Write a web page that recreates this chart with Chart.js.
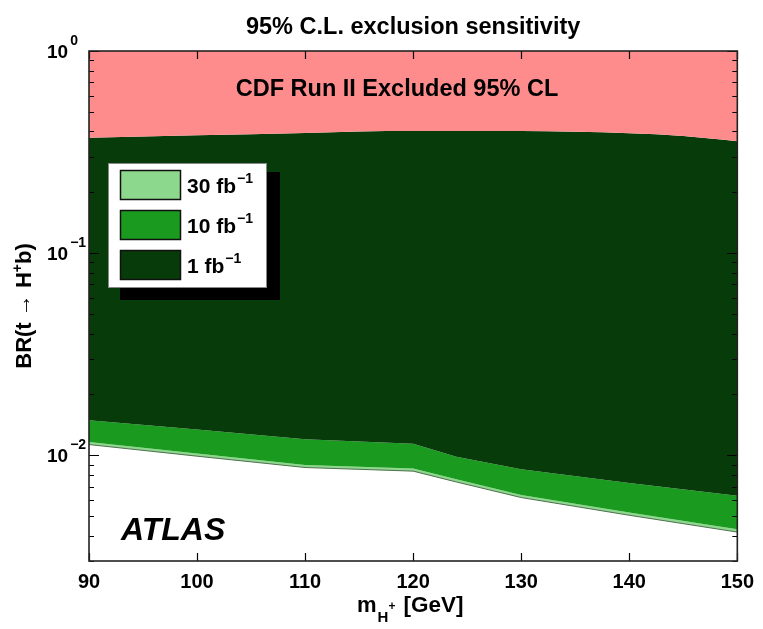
<!DOCTYPE html>
<html>
<head>
<meta charset="utf-8">
<script src="https://cdn.jsdelivr.net/npm/chart.js@4.4.1/dist/chart.umd.min.js"></script>
<style>
html,body{margin:0;padding:0;background:#fff;}
#wrap{position:relative;width:763px;height:629px;}
</style>
</head>
<body>
<div id="wrap"><canvas id="c" width="763" height="629"></canvas></div>
<script>
// ---- data ----
const masses = [90, 100, 110, 120, 124, 130, 140, 150];
const cdfMasses = [90, 100, 110, 115, 120, 130, 140, 145, 150];
const cdfLimit = [0.372, 0.383, 0.393, 0.400, 0.402, 0.402, 0.392, 0.380, 0.358];
const sens1fb  = [0.0149, 0.0134, 0.0120, 0.0114, 0.00985, 0.00853, 0.00730, 0.00630];
const sens10fb = [0.01164, 0.0102, 0.00896, 0.0086, 0.00761, 0.00637, 0.00521, 0.00431];
const sens30fb = [0.0113, 0.0099, 0.0087, 0.00835, 0.00738, 0.00618, 0.00505, 0.00417];
const xTicks = [90, 100, 110, 120, 130, 140, 150];
const yDecades = [1, 0.1, 0.01];
const yDecadeExp = ['0', '\u22121', '\u22122'];
const legendLabels = ['30 fb', '10 fb', '1 fb'];

const COL_PINK = '#ff8c8c';
const COL_DARK = '#073b09';
const COL_MID = '#1a9a1e';
const COL_LIGHT = '#8cd88c';
const FONT = '"Liberation Sans", Arial, sans-serif';
const NARROW = '"Liberation Sans Narrow", "Liberation Sans", Arial, sans-serif';

const pts = (xs, ys) => xs.map((x, i) => ({x: x, y: ys[i]}));

const decor = {
  id: 'decor',
  afterDatasetsDraw(chart) {
    const ctx = chart.ctx;
    ctx.save();
    // CDF label
    ctx.fillStyle = '#000';
    ctx.font = 'bold 23.5px ' + FONT;
    ctx.textAlign = 'center';
    ctx.textBaseline = 'middle';
    ctx.fillText('CDF Run II Excluded 95% CL', 397, 90);
    // ATLAS
    ctx.font = 'italic bold 32px ' + FONT;
    ctx.textAlign = 'left';
    ctx.textBaseline = 'alphabetic';
    ctx.fillText('ATLAS', 121, 540);
    // legend
    ctx.fillStyle = '#000';
    ctx.fillRect(120, 172, 160, 128);
    ctx.fillStyle = '#fff';
    ctx.fillRect(108, 163, 159, 125);
    ctx.strokeStyle = '#888';
    ctx.lineWidth = 1;
    ctx.strokeRect(108.5, 163.5, 158, 124);
    const cols = [COL_LIGHT, COL_MID, COL_DARK];
    const tops = [170, 210, 250];
    for (let i = 0; i < 3; i++) {
      ctx.fillStyle = cols[i];
      ctx.fillRect(120, tops[i], 61, 30);
      ctx.strokeStyle = '#111';
      ctx.lineWidth = 1.5;
      ctx.strokeRect(120.5, tops[i] + 0.5, 60, 29);
      ctx.fillStyle = '#000';
      ctx.font = 'bold 21px ' + FONT;
      ctx.textAlign = 'left';
      ctx.textBaseline = 'alphabetic';
      const base = tops[i] + 23;
      ctx.fillText(legendLabels[i], 187, base);
      const w = ctx.measureText(legendLabels[i]).width;
      ctx.font = 'bold 14px ' + FONT;
      ctx.fillText('\u22121', 187 + w + 1, base - 10);
    }
    ctx.restore();
  },
  afterDraw(chart) {
    const ctx = chart.ctx, a = chart.chartArea;
    const xs = chart.scales.x, ys = chart.scales.y;
    ctx.save();
    ctx.strokeStyle = '#000';
    ctx.lineWidth = 1.2;
    ctx.beginPath();
    // x ticks top & bottom
    xTicks.forEach(v => {
      const px = Math.round(xs.getPixelForValue(v)) + 0.5;
      ctx.moveTo(px, a.bottom); ctx.lineTo(px, a.bottom - 8);
      ctx.moveTo(px, a.top); ctx.lineTo(px, a.top + 8);
    });
    // y ticks left & right
    for (let e = -3; e <= 0; e++) {
      for (let m = 1; m <= 9; m++) {
        const v = m * Math.pow(10, e);
        if (v < ys.min - 1e-12 || v > ys.max + 1e-12) continue;
        const py = Math.round(ys.getPixelForValue(v)) + 0.5;
        const len = m === 1 ? 10 : 5;
        ctx.moveTo(a.left, py); ctx.lineTo(a.left + len, py);
        ctx.moveTo(a.right, py); ctx.lineTo(a.right - len, py);
        if (e === 0) break;
      }
    }
    ctx.stroke();
    // frame
    ctx.lineWidth = 1.6;
    ctx.strokeStyle = '#222';
    ctx.strokeRect(a.left, a.top, a.right - a.left, a.bottom - a.top);
    // y tick labels (10 with superscript exponent)
    ctx.fillStyle = '#000';
    ctx.textAlign = 'left';
    ctx.textBaseline = 'alphabetic';
    yDecades.forEach((v, i) => {
      const py = ys.getPixelForValue(v);
      ctx.font = 'bold 19px ' + NARROW;
      const bw = ctx.measureText('10').width;
      const x0 = 47;
      ctx.fillText('10', x0, py + 7);
      ctx.font = 'bold 14px ' + NARROW;
      ctx.fillText(yDecadeExp[i], x0 + bw + 2, py - 6);
    });
    // x axis title: m_{H+} [GeV]
    ctx.font = 'bold 22px ' + FONT;
    let x = 357, base = 612;
    ctx.fillText('m', x, base);
    x += ctx.measureText('m').width + 1;
    ctx.font = 'bold 15px ' + FONT;
    ctx.fillText('H', x, base + 10);
    x += ctx.measureText('H').width;
    ctx.font = 'bold 12px ' + FONT;
    ctx.fillText('+', x, base - 2);
    x += ctx.measureText('+').width + 8;
    ctx.font = 'bold 22.5px ' + FONT;
    ctx.fillText('[GeV]', x, base);
    // y axis title
    ctx.save();
    ctx.translate(31, 306);
    ctx.rotate(-Math.PI / 2);
    ctx.font = 'bold 22px ' + FONT;
    const p1 = 'BR(t ', arrow = '\u2192', p2 = ' H', sup = '+', p3 = 'b)';
    const w1 = ctx.measureText(p1).width;
    ctx.font = '22px ' + FONT;
    const wa = ctx.measureText(arrow).width;
    ctx.font = 'bold 22px ' + FONT;
    const w2 = ctx.measureText(p2).width;
    ctx.font = 'bold 14px ' + FONT;
    const ws = ctx.measureText(sup).width;
    ctx.font = 'bold 22px ' + FONT;
    const w3 = ctx.measureText(p3).width;
    let tx = -(w1 + wa + w2 + ws + w3) / 2;
    ctx.fillText(p1, tx, 0); tx += w1;
    ctx.font = '22px ' + FONT;
    ctx.fillText(arrow, tx, -1); tx += wa;
    ctx.font = 'bold 22px ' + FONT;
    ctx.fillText(p2, tx, 0); tx += w2;
    ctx.font = 'bold 14px ' + FONT;
    ctx.fillText(sup, tx, -9); tx += ws;
    ctx.font = 'bold 22px ' + FONT;
    ctx.fillText(p3, tx, 0);
    ctx.restore();
    ctx.restore();
  }
};

new Chart(document.getElementById('c'), {
  type: 'line',
  data: {
    datasets: [
      { label: 'CDF Run II Excluded 95% CL', data: pts(cdfMasses, cdfLimit), fill: 'end',
        backgroundColor: COL_PINK, borderWidth: 0, pointRadius: 0, cubicInterpolationMode: 'monotone' },
      { label: '1 fb-1', data: pts(masses, sens1fb), fill: 0,
        backgroundColor: COL_DARK, borderWidth: 0, pointRadius: 0, tension: 0 },
      { label: '10 fb-1', data: pts(masses, sens10fb), fill: 1,
        backgroundColor: COL_MID, borderWidth: 0, pointRadius: 0, tension: 0 },
      { label: '30 fb-1', data: pts(masses, sens30fb), fill: 2,
        backgroundColor: COL_LIGHT, borderColor: '#4f6f4f', borderWidth: 1, pointRadius: 0, tension: 0 }
    ]
  },
  options: {
    responsive: false,
    animation: false,
    events: [],
    layout: { padding: { left: 0, right: 25, top: 0, bottom: 0 } },
    plugins: {
      legend: { display: false },
      tooltip: { enabled: false },
      title: {
        display: true,
        fullSize: false,
        text: '95% C.L. exclusion sensitivity',
        color: '#000',
        font: { family: FONT, size: 23.5, weight: 'bold' },
        padding: { top: 13, bottom: 9.8 }
      }
    },
    scales: {
      x: {
        type: 'linear', min: 90, max: 150,
        afterBuildTicks: s => { s.ticks = xTicks.map(v => ({value: v})); },
        afterFit: s => { s.height = 68; },
        grid: { display: false, drawTicks: false },
        border: { display: false },
        ticks: { color: '#000', font: { family: FONT, size: 20, weight: 'bold' }, padding: 9, maxRotation: 0, autoSkip: false }
      },
      y: {
        type: 'logarithmic', min: 0.003, max: 1,
        afterFit: s => { s.width = 89; },
        grid: { display: false, drawTicks: false },
        border: { display: false },
        ticks: { display: false }
      }
    }
  },
  plugins: [decor]
});
</script>
</body>
</html>
